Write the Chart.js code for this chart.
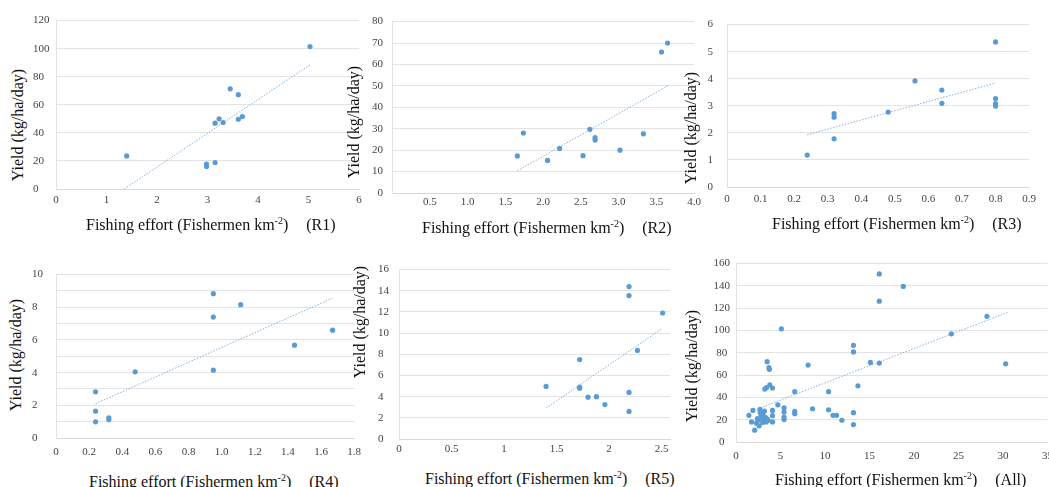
<!DOCTYPE html>
<html>
<head>
<meta charset="utf-8">
<script src="https://cdn.jsdelivr.net/npm/chart.js@4.4.1/dist/chart.umd.min.js"></script>
<style>
  html, body { margin: 0; padding: 0; background: #fff; overflow: hidden; }
  #wrap { position: relative; width: 1049px; height: 487px; overflow: hidden; background: #fff; }
  canvas { position: absolute; }
  .ytitle, .xtitle { position: absolute; font-family: 'Liberation Serif', serif; font-size: 16px; color: #111; white-space: nowrap; }
  .ytitle { transform: translate(-50%, -50%) rotate(-90deg); }
  .xtitle { transform: translateY(-50%); }
  .xtitle sup { font-size: 10px; vertical-align: 6px; line-height: 0; }
  .xtitle .tag { margin-left: 18px; }
</style>
</head>
<body>
<div id="wrap"></div>
<script>
// R1
const r1Effort = [1.4, 2.98, 2.98, 3.15, 3.15, 3.23, 3.31, 3.45, 3.61, 3.61, 3.69, 5.03];
const r1Yield = [23.6, 17.8, 16.1, 18.9, 46.9, 50.0, 47.4, 71.4, 67.2, 49.7, 51.6, 101.5];
const r1TrendX = [1.35, 5.03];
const r1TrendY = [0, 88.5];
const r1XTicks = [0, 1, 2, 3, 4, 5, 6];
const r1XLabels = ['0', '1', '2', '3', '4', '5', '6'];
const r1YTicks = [0, 20, 40, 60, 80, 100, 120];
const r1YLabels = ['0', '20', '40', '60', '80', '100', '120'];

// R2
const r2Effort = [1.66, 1.74, 2.06, 2.22, 2.53, 2.62, 2.69, 2.69, 3.02, 3.33, 3.57, 3.65];
const r2Yield = [17.3, 28, 15.2, 20.8, 17.4, 29.7, 25.8, 24.7, 20, 27.6, 65.8, 70];
const r2TrendX = [1.66, 3.65];
const r2TrendY = [10.3, 50];
const r2XTicks = [0, 0.5, 1, 1.5, 2, 2.5, 3, 3.5, 4];
const r2XLabels = ['', '0.5', '1.0', '1.5', '2.0', '2.5', '3.0', '3.5', '4.0'];
const r2YTicks = [0, 10, 20, 30, 40, 50, 60, 70, 80];
const r2YLabels = ['0', '10', '20', '30', '40', '50', '60', '70', '80'];

// R3
const r3Effort = [0.239, 0.319, 0.319, 0.319, 0.48, 0.56, 0.64, 0.64, 0.80, 0.80, 0.80, 0.80];
const r3Yield = [1.18, 2.71, 2.58, 1.78, 2.77, 3.92, 3.58, 3.09, 5.36, 3.27, 3.08, 2.99];
const r3TrendX = [0.239, 0.80];
const r3TrendY = [1.93, 3.84];
const r3XTicks = [0, 0.1, 0.2, 0.3, 0.4, 0.5, 0.6, 0.7, 0.8, 0.9];
const r3XLabels = ['0', '0.1', '0.2', '0.3', '0.4', '0.5', '0.6', '0.7', '0.8', '0.9'];
const r3YTicks = [0, 1, 2, 3, 4, 5, 6];
const r3YLabels = ['0', '1', '2', '3', '4', '5', '6'];

// R4
const r4Effort = [0.239, 0.239, 0.239, 0.319, 0.319, 0.478, 0.95, 0.95, 0.95, 1.115, 1.44, 1.67];
const r4Yield = [2.83, 1.64, 0.99, 1.24, 1.13, 4.05, 8.83, 7.4, 4.15, 8.16, 5.68, 6.6];
const r4TrendX = [0.239, 1.667];
const r4TrendY = [2.1, 8.55];
const r4XTicks = [0, 0.2, 0.4, 0.6, 0.8, 1.0, 1.2, 1.4, 1.6, 1.8];
const r4XLabels = ['0', '0.2', '0.4', '0.6', '0.8', '1.0', '1.2', '1.4', '1.6', '1.8'];
const r4YTicks = [0, 1, 2, 3, 4, 5, 6, 7, 8, 9, 10];
const r4YLabels = ['0', '', '2', '', '4', '', '6', '', '8', '', '10'];

// R5
const r5Effort = [1.40, 1.72, 1.72, 1.72, 1.80, 1.88, 1.96, 2.19, 2.19, 2.19, 2.19, 2.27, 2.51];
const r5Yield = [4.97, 7.5, 4.9, 4.8, 3.95, 4.0, 3.25, 14.4, 13.55, 4.4, 2.6, 8.37, 11.9];
const r5TrendX = [1.40, 2.5];
const r5TrendY = [2.92, 10.4];
const r5XTicks = [0, 0.5, 1, 1.5, 2, 2.5];
const r5XLabels = ['0', '0.5', '1', '1.5', '2', '2.5'];
const r5YTicks = [0, 2, 4, 6, 8, 10, 12, 14, 16];
const r5YLabels = ['0', '2', '4', '6', '8', '10', '12', '14', '16'];

// All regions
const allEffort = [1.45, 1.9, 1.75, 2.1, 2.3, 2.5, 2.6, 2.7, 2.7, 2.8, 2.9, 3.0, 3.1, 3.2, 3.2, 3.3, 3.4, 3.5,
  3.24, 3.43, 3.8, 4.1, 3.5, 3.7, 3.75, 4.1, 4.1, 4.1, 4.7, 5.1, 5.4, 5.4, 5.4, 5.4, 6.6, 6.6, 6.6, 8.1, 8.6,
  10.4, 10.4, 10.9, 11.3, 11.9, 13.2, 13.2, 13.2, 13.2, 13.7, 15.1, 16.1, 16.1, 16.1, 18.8, 24.2, 28.2, 30.3,
  2.4, 3.0, 3.6];
const allYield = [23.9, 28.3, 18, 10.6, 16.8, 19.5, 14.5, 29.2, 26.8, 24.2, 21.5, 17.5, 23.0, 27.7, 19.8, 22.0, 18.0, 20.5,
  47.5, 48.9, 51.3, 48.4, 72, 66.7, 65.2, 28.3, 23.6, 18, 33.3, 101.5, 30.7, 26.8, 22.4, 20.1, 45.1, 27.4, 25.4, 69, 29.8,
  45.1, 28.9, 23.9, 23.9, 19.5, 86.7, 80.8, 26.3, 15.6, 50.4, 71.4, 150.7, 126.3, 70.8, 139.5, 97, 112.7, 70.2,
  21, 25.5, 19.5];
const allTrendX = [2.7, 30.5];
const allTrendY = [30.5, 116.2];
const allXTicks = [0, 5, 10, 15, 20, 25, 30, 35];
const allXLabels = ['0', '5', '10', '15', '20', '25', '30', '35'];
const allYTicks = [0, 20, 40, 60, 80, 100, 120, 140, 160];
const allYLabels = ['0', '20', '40', '60', '80', '100', '120', '140', '160'];

const wrap = document.getElementById('wrap');
const tickFont = { family: "'Liberation Serif', serif", size: 11 };
const PAD_T = 10, PAD_R = 12, X_H = 30;

function panel(p) {
  const cv = document.createElement('canvas');
  const w = (p.r - p.l) + p.yw + PAD_R;
  const h = (p.b - p.t) + PAD_T + X_H;
  cv.width = w; cv.height = h;
  cv.style.left = (p.l - p.yw) + 'px';
  cv.style.top = (p.t - PAD_T) + 'px';
  cv.style.width = w + 'px';
  cv.style.height = h + 'px';
  wrap.appendChild(cv);

  const pts = p.x.map((v, i) => ({ x: v, y: p.y[i] }));
  const trend = p.tx.map((v, i) => ({ x: v, y: p.ty[i] }));

  new Chart(cv, {
    type: 'scatter',
    data: {
      datasets: [
        { data: pts, backgroundColor: '#5b9bd5', borderColor: '#5b9bd5', pointRadius: 2.6, pointBorderWidth: 0, pointHoverRadius: 2.6 },
        { type: 'line', data: trend, borderColor: '#82b2e2', borderWidth: 1, borderDash: [1.5, 1.5], pointRadius: 0, fill: false }
      ]
    },
    options: {
      responsive: false,
      animation: false,
      events: [],
      layout: { padding: { top: PAD_T, right: PAD_R, left: 0, bottom: 0 } },
      plugins: { legend: { display: false }, tooltip: { enabled: false } },
      scales: {
        x: {
          type: 'linear', min: p.xTicks[0], max: p.xMax || p.xTicks[p.xTicks.length - 1],
          afterBuildTicks: s => { s.ticks = p.xTicks.map(v => ({ value: v })); },
          afterFit: s => { s.height = X_H; },
          grid: { display: false, drawTicks: false },
          border: { color: '#d9d9d9' },
          ticks: { autoSkip: false, maxRotation: 0, padding: p.xpad, font: tickFont, color: '#444',
            callback: (v, i) => p.xLabels[i] }
        },
        y: {
          type: 'linear', min: p.yTicks[0], max: p.yTicks[p.yTicks.length - 1],
          afterBuildTicks: s => { s.ticks = p.yTicks.map(v => ({ value: v })); },
          afterFit: s => { s.width = p.yw; },
          grid: { color: '#e3e3e3', drawTicks: false },
          border: { color: '#e3e3e3' },
          ticks: { autoSkip: false, padding: p.ypad, crossAlign: p.align, font: tickFont, color: '#444',
            callback: (v, i) => p.yLabels[i] }
        }
      }
    }
  });
}

function titles(yc, xl, tag) {
  const yt = document.createElement('div');
  yt.className = 'ytitle';
  yt.style.left = yc[0] + 'px'; yt.style.top = yc[1] + 'px';
  yt.textContent = 'Yield (kg/ha/day)';
  wrap.appendChild(yt);
  const xt = document.createElement('div');
  xt.className = 'xtitle';
  xt.style.left = xl[0] + 'px'; xt.style.top = xl[1] + 'px';
  xt.innerHTML = 'Fishing effort (Fishermen km<sup>-2</sup>)<span class="tag">(' + tag + ')</span>';
  wrap.appendChild(xt);
}

panel({ l: 56, r: 359, t: 17, b: 189, yw: 23, align: 'far', ypad: 7, xpad: 5,
  x: r1Effort, y: r1Yield, tx: r1TrendX, ty: r1TrendY,
  xTicks: r1XTicks, xLabels: r1XLabels, yTicks: r1YTicks, yLabels: r1YLabels });
panel({ l: 392, r: 694, t: 16, b: 193, yw: 30, align: 'near', ypad: 9, xpad: 3,
  x: r2Effort, y: r2Yield, tx: r2TrendX, ty: r2TrendY,
  xTicks: r2XTicks, xLabels: r2XLabels, yTicks: r2YTicks, yLabels: r2YLabels });
panel({ l: 727, r: 1030, t: 14, b: 187, yw: 30, align: 'near', ypad: 14, xpad: 6,
  x: r3Effort, y: r3Yield, tx: r3TrendX, ty: r3TrendY,
  xTicks: r3XTicks, xLabels: r3XLabels, yTicks: r3YTicks, yLabels: r3YLabels });
panel({ l: 56, r: 357, t: 264, b: 438, yw: 24, align: 'far', ypad: 14, xpad: 8,
  x: r4Effort, y: r4Yield, tx: r4TrendX, ty: r4TrendY,
  xTicks: r4XTicks, xLabels: r4XLabels, yTicks: r4YTicks, yLabels: r4YLabels });
panel({ l: 399, r: 670, t: 262, b: 439, yw: 21, align: 'far', ypad: 11, xpad: 4, xMax: 2.58,
  x: r5Effort, y: r5Yield, tx: r5TrendX, ty: r5TrendY,
  xTicks: r5XTicks, xLabels: r5XLabels, yTicks: r5YTicks, yLabels: r5YLabels });
panel({ l: 736, r: 1049, t: 261, b: 442, yw: 40, align: 'center', ypad: 6, xpad: 8,
  x: allEffort, y: allYield, tx: allTrendX, ty: allTrendY,
  xTicks: allXTicks, xLabels: allXLabels, yTicks: allYTicks, yLabels: allYLabels });

titles([18, 125], [86, 225], 'R1');
titles([354, 122], [422, 228], 'R2');
titles([691, 128], [772, 224], 'R3');
titles([16, 355], [89, 482], 'R4');
titles([360, 322], [425, 479], 'R5');
titles([692, 366], [775, 480], 'All');
</script>
</body>
</html>
